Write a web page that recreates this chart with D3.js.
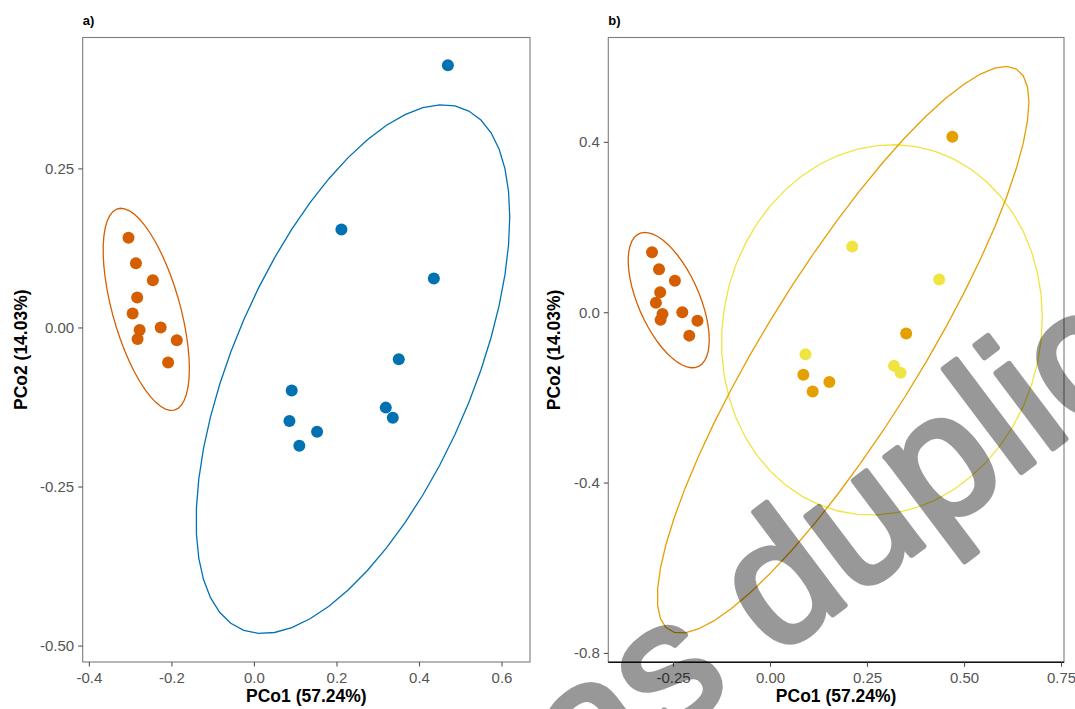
<!DOCTYPE html>
<html><head><meta charset="utf-8">
<script src="https://cdn.jsdelivr.net/npm/d3@7"></script>
<style>
body{margin:0;background:#fff}
svg{display:block;font-family:Arial,"Liberation Sans",Helvetica,sans-serif}
</style>
</head><body>
<svg id="chart" width="1075" height="709"></svg>
<script>
// ---- data ----
const pco1 = [-0.304,-0.286,-0.245,-0.283,-0.294,-0.277,-0.282,-0.226,-0.187,-0.208,
               0.212, 0.436, 0.351, 0.0915, 0.086, 0.153, 0.110, 0.3195, 0.3365, 0.470];
const pco2 = [ 0.141, 0.101, 0.074, 0.047, 0.022,-0.004,-0.018, 0.000,-0.020,-0.055,
               0.154, 0.077,-0.050,-0.099,-0.147,-0.164,-0.186,-0.126,-0.142, 0.412];
const groupA = ["A","A","A","A","A","A","A","A","A","A",
                "B","B","B","B","B","B","B","B","B","B"];
const groupB = ["1","1","1","1","1","1","1","1","1","1",
                "3","3","2","3","2","2","2","3","3","2"];
const colorsA = {A:"#D55E00", B:"#0072B2"};
const colorsB = {"1":"#D55E00", "2":"#E69F00", "3":"#F0E442"};
const ticksAx = [-0.4,-0.2,0.0,0.2,0.4,0.6];
const ticksAy = [-0.50,-0.25,0.00,0.25];
const ticksBx = [-0.25,0.00,0.25,0.50,0.75];
const ticksBy = [-0.8,-0.4,0.0,0.4];
const xTitle = "PCo1 (57.24%)";
const yTitle = "PCo2 (14.03%)";
const watermark = "as duplicate";

const svg = d3.select("#chart");
const loc = d3.formatLocale({decimal:".", thousands:",", grouping:[3], currency:["",""], minus:"-"});

// MASS::cov.trob + ggplot2 stat_ellipse (type "t", level 0.95)
function covTrob(pts){
  const n = pts.length, p = 2, nu = 5, tol = 0.01;
  let w = pts.map(()=>1);
  let locv = [d3.mean(pts,d=>d[0]), d3.mean(pts,d=>d[1])];
  let X;
  for (let it=0; it<25; it++){
    const w0 = w.slice();
    X = pts.map(d=>[d[0]-locv[0], d[1]-locv[1]]);
    const sw = d3.sum(w);
    let a=0,b=0,c=0;
    X.forEach((x,i)=>{a+=w[i]*x[0]*x[0]; b+=w[i]*x[0]*x[1]; c+=w[i]*x[1]*x[1];});
    a/=sw; b/=sw; c/=sw;
    const det = a*c-b*b;
    const Q = X.map(x=>(c*x[0]*x[0]-2*b*x[0]*x[1]+a*x[1]*x[1])/det);
    w = Q.map(q=>(nu+p)/(nu+q));
    const sw2 = d3.sum(w);
    locv = [d3.sum(pts,(d,i)=>w[i]*d[0])/sw2, d3.sum(pts,(d,i)=>w[i]*d[1])/sw2];
    if (w.every((v,i)=>Math.abs(v-w0[i])<tol)) break;
  }
  let a=0,b=0,c=0;
  X.forEach((x,i)=>{a+=w[i]*x[0]*x[0]; b+=w[i]*x[0]*x[1]; c+=w[i]*x[1]*x[1];});
  return {center:locv, cov:[a/n,b/n,c/n]};
}
function ellipsePts(pts, level){
  const n = pts.length, dfd = n-1;
  const F = (dfd/2)*(Math.pow(1-level,-2/dfd)-1);   // qf(level,2,dfd)
  const r = Math.sqrt(2*F);
  const {center, cov} = covTrob(pts);
  const R11 = Math.sqrt(cov[0]), R12 = cov[1]/R11, R22 = Math.sqrt(cov[2]-R12*R12);
  const out = [];
  for (let k=0;k<=51;k++){
    const t = k*2*Math.PI/51, ct=Math.cos(t), st=Math.sin(t);
    out.push([center[0]+r*ct*R11, center[1]+r*(ct*R12+st*R22)]);
  }
  return out;
}

function panel(opt){
  const g = svg.append("g");
  const x = d3.scaleLinear().domain(opt.xd).range([opt.l, opt.r]);
  const y = d3.scaleLinear().domain(opt.yd).range([opt.b, opt.t]);
  const id = "clip"+opt.key;
  svg.append("defs").append("clipPath").attr("id",id).append("rect")
     .attr("x",opt.l).attr("y",opt.t).attr("width",opt.r-opt.l).attr("height",opt.b-opt.t);
  const plot = g.append("g").attr("clip-path",`url(#${id})`);
  const groups = Array.from(new Set(opt.group));
  const line = d3.line().x(d=>x(d[0])).y(d=>y(d[1]));
  groups.forEach(gr=>{
    const pts = pco1.map((v,i)=>[v,pco2[i]]).filter((d,i)=>opt.group[i]===gr);
    plot.append("path").attr("d", line(ellipsePts(pts,0.95)))
      .attr("fill","none").attr("stroke",opt.colors[gr]).attr("stroke-width",1.3);
  });
  plot.selectAll("circle").data(pco1).join("circle")
    .attr("cx",d=>x(d)).attr("cy",(d,i)=>y(pco2[i])).attr("r",6)
    .attr("fill",(d,i)=>opt.colors[opt.group[i]]);
  // frame
  g.append("rect").attr("x",opt.l).attr("y",opt.t).attr("width",opt.r-opt.l).attr("height",opt.b-opt.t)
    .attr("fill","none").attr("stroke","#7d7d7d").attr("stroke-width",1.1);
  if (opt.blackBottom){
    g.append("line").attr("x1",opt.l).attr("x2",opt.r).attr("y1",opt.b).attr("y2",opt.b)
     .attr("stroke","#111").attr("stroke-width",1.6);
  }
  // axes
  const ax = g.append("g").attr("transform",`translate(0,${opt.b})`)
    .call(d3.axisBottom(x).tickValues(opt.tx).tickFormat(loc.format(opt.fx)).tickSize(4.5).tickPadding(6));
  const ay = g.append("g").attr("transform",`translate(${opt.l},0)`)
    .call(d3.axisLeft(y).tickValues(opt.ty).tickFormat(loc.format(opt.fy)).tickSize(4.5).tickPadding(4));
  [ax,ay].forEach(a=>{
    a.select(".domain").remove();
    a.selectAll(".tick line").attr("stroke","#555").attr("stroke-width",1.1);
    a.selectAll(".tick text").attr("fill","#555").attr("font-size","15px")
      .attr("font-family",'Arial,"Liberation Sans",Helvetica,sans-serif');
  });
  g.append("text").attr("x",(opt.l+opt.r)/2).attr("y",702).attr("text-anchor","middle")
    .attr("font-weight","bold").attr("font-size","17.5px").attr("fill","#000").text(xTitle);
  g.append("text").attr("transform",`translate(${opt.yt},${(opt.t+opt.b)/2}) rotate(-90)`)
    .attr("text-anchor","middle").attr("font-weight","bold").attr("font-size","17.5px")
    .attr("fill","#000").text(yTitle);
  g.append("text").attr("x",opt.l).attr("y",25).attr("font-weight","bold")
    .attr("font-size","13px").attr("fill","#000").text(opt.label);
}

panel({key:"a", l:82.7, r:530, t:37.5, b:662, xd:[-0.415,0.669], yd:[-0.5258,0.4557],
       tx:ticksAx, ty:ticksAy, fx:".1f", fy:".2f", group:groupA, colors:colorsA,
       yt:27, label:"a)"});
panel({key:"b", l:608.3, r:1064, t:37.5, b:662.3, xd:[-0.4167,0.7577], yd:[-0.822,0.645],
       tx:ticksBx, ty:ticksBy, fx:".2f", fy:".1f", group:groupB, colors:colorsB,
       yt:560, label:"b)", blackBottom:true});

// overlaid watermark
svg.append("g").attr("opacity",0.4).append("text")
  .attr("transform","translate(585,801) rotate(-37)")
  .attr("font-size","178px").attr("fill","#000").attr("stroke","#000").attr("stroke-width",6)
  .attr("stroke-linejoin","round")
  .attr("font-family",'Arial,"Liberation Sans",Helvetica,sans-serif').text(watermark);
</script>
</body></html>
